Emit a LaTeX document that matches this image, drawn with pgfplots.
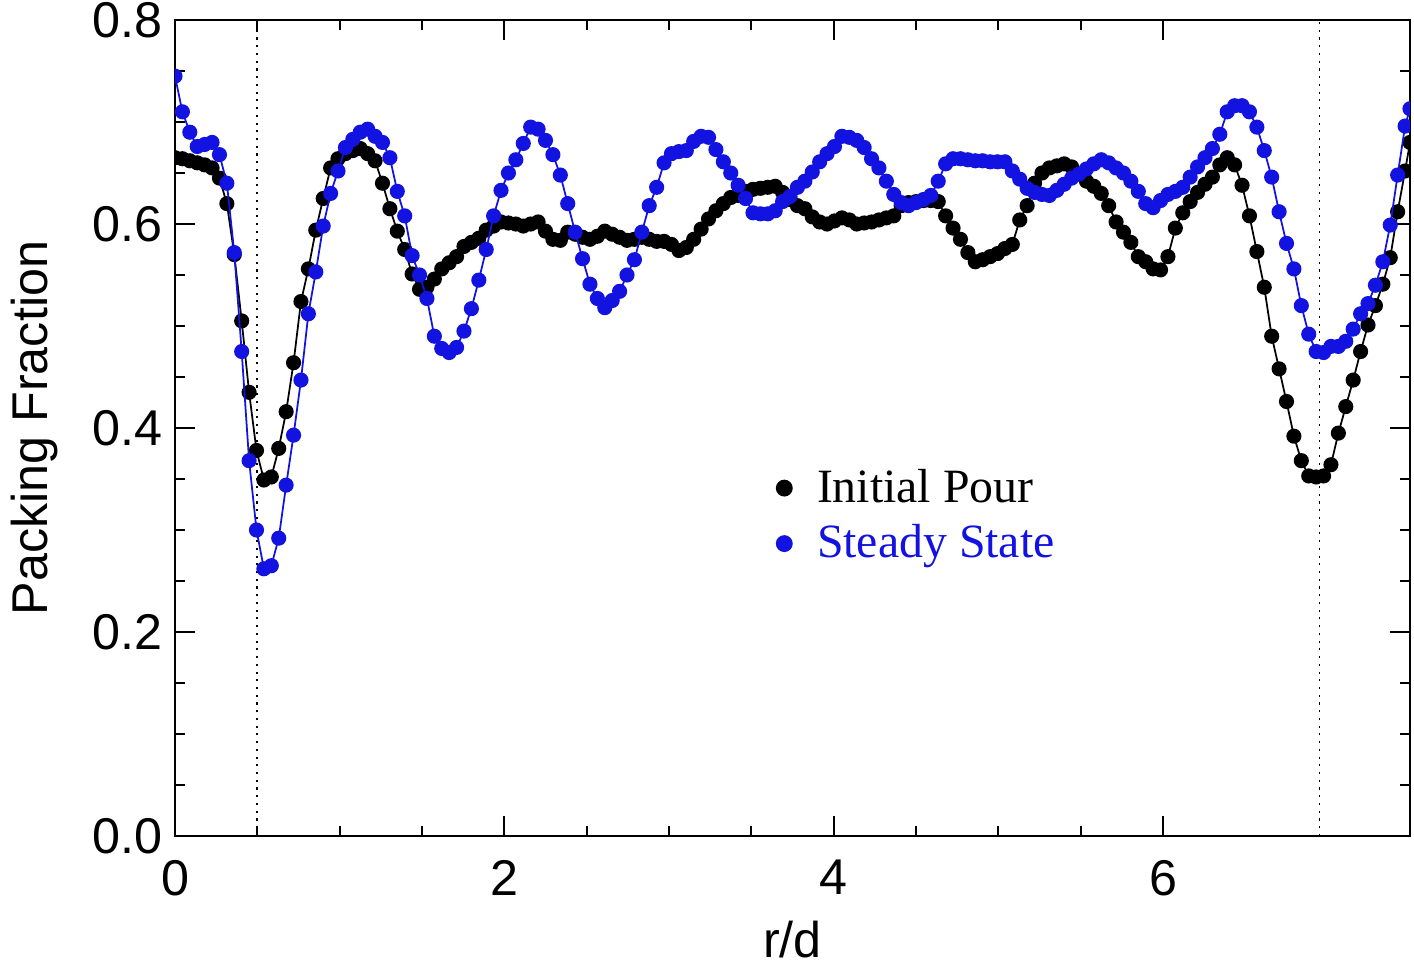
\documentclass[border=0pt]{standalone}
\usepackage{pgfplots}
\pgfplotsset{compat=1.18}
\usepackage{fontspec}
\setmainfont{Liberation Sans}
\newfontfamily\serif{Liberation Serif}
\definecolor{ssblue}{RGB}{18,18,225}
\begin{document}
\begin{tikzpicture}
\useasboundingbox (-1.75cm,-1.31cm) rectangle (12.39cm,8.36cm);
\begin{axis}[
 scale only axis, width=12.35cm, height=8.16cm,
 xmin=0, xmax=7.5, ymin=0, ymax=0.8,
 xtick={0,2,4,6}, minor x tick num=3,
 ytick={0,0.2,0.4,0.6,0.8}, minor y tick num=3,
 tick align=inside,
 major tick length=0.2cm, minor tick length=0.1cm,
 axis line style={line width=0.6pt},
 tick style={black, line width=0.6pt},
 tick label style={font=\fontsize{14.3}{17}\selectfont},
 /pgf/number format/assume math mode=true,
 yticklabel style={/pgf/number format/fixed, /pgf/number format/fixed zerofill, /pgf/number format/precision=1},
 xticklabel style={yshift=-0.12cm},
 xlabel={r/d}, ylabel={Packing Fraction},
 xlabel style={at={(axis description cs:0.5,-0.1265)}, anchor=center, font=\fontsize{14.3}{17}\selectfont},
 ylabel style={at={(axis description cs:-0.1134,0.5)}, rotate=0, anchor=center, font=\fontsize{14.3}{17}\selectfont},
 clip marker paths=true,
 legend style={draw=none, fill=none, at={(0.478,0.468)}, anchor=north west, font=\serif\fontsize{13.6}{16}\selectfont, cells={anchor=west}, row sep=0.03cm},
]
\addlegendimage{only marks, mark=*, black, mark size=2.2pt}
\addlegendentry{\hspace{0.18cm}Initial Pour}
\addlegendimage{only marks, mark=*, ssblue, mark size=2.2pt}
\addlegendentry{\hspace{0.18cm}\textcolor{ssblue}{Steady State}}

\addplot[black, dash pattern=on 0.6pt off 1.6pt, line width=0.5pt, forget plot] coordinates {(0.5,0) (0.5,0.8)};
\addplot[black, dash pattern=on 0.6pt off 1.6pt, line width=0.5pt, forget plot] coordinates {(6.95,0) (6.95,0.8)};

\addplot[black, line width=0.5pt, mark=*, mark size=1.9pt, mark options={solid, fill=black}, forget plot] coordinates {
(0,0.665)(0.045,0.664)(0.09,0.662)(0.135,0.66)(0.18,0.658)(0.225,0.655)(0.27,0.645)(0.315,0.62)(0.36,0.57)(0.405,0.505)(0.45,0.435)(0.495,0.378)(0.54,0.349)(0.585,0.352)(0.63,0.38)(0.675,0.416)(0.72,0.464)(0.765,0.524)(0.81,0.556)(0.855,0.594)(0.9,0.625)(0.945,0.655)(0.99,0.664)(1.035,0.669)(1.08,0.672)(1.125,0.674)(1.17,0.669)(1.215,0.662)(1.26,0.64)(1.305,0.615)(1.35,0.593)(1.395,0.575)(1.44,0.551)(1.485,0.536)(1.53,0.538)(1.575,0.546)(1.62,0.556)(1.665,0.562)(1.71,0.568)(1.755,0.578)(1.8,0.582)(1.845,0.586)(1.89,0.594)(1.935,0.598)(1.98,0.602)(2.025,0.601)(2.07,0.6)(2.115,0.598)(2.16,0.6)(2.205,0.602)(2.25,0.593)(2.295,0.585)(2.34,0.584)(2.385,0.592)(2.43,0.59)(2.475,0.587)(2.52,0.585)(2.565,0.588)(2.61,0.593)(2.655,0.59)(2.7,0.587)(2.745,0.584)(2.79,0.585)(2.835,0.587)(2.88,0.585)(2.925,0.583)(2.97,0.583)(3.015,0.58)(3.06,0.574)(3.105,0.577)(3.15,0.585)(3.195,0.595)(3.24,0.605)(3.285,0.613)(3.33,0.62)(3.375,0.626)(3.42,0.628)(3.465,0.632)(3.51,0.634)(3.555,0.635)(3.6,0.636)(3.645,0.637)(3.69,0.631)(3.735,0.624)(3.78,0.618)(3.825,0.615)(3.87,0.607)(3.915,0.602)(3.96,0.6)(4.005,0.603)(4.05,0.606)(4.095,0.604)(4.14,0.6)(4.185,0.601)(4.23,0.602)(4.275,0.604)(4.32,0.606)(4.365,0.608)(4.41,0.618)(4.455,0.621)(4.5,0.622)(4.545,0.623)(4.59,0.623)(4.635,0.622)(4.68,0.608)(4.725,0.596)(4.77,0.585)(4.815,0.572)(4.86,0.563)(4.905,0.565)(4.95,0.568)(4.995,0.571)(5.04,0.576)(5.085,0.58)(5.13,0.604)(5.175,0.618)(5.22,0.64)(5.265,0.65)(5.31,0.655)(5.355,0.657)(5.4,0.659)(5.445,0.656)(5.49,0.649)(5.535,0.642)(5.58,0.637)(5.625,0.63)(5.67,0.618)(5.715,0.602)(5.76,0.592)(5.805,0.582)(5.85,0.568)(5.895,0.563)(5.94,0.556)(5.985,0.555)(6.03,0.568)(6.075,0.596)(6.12,0.611)(6.165,0.622)(6.21,0.631)(6.255,0.639)(6.3,0.646)(6.345,0.658)(6.39,0.665)(6.435,0.658)(6.48,0.638)(6.525,0.608)(6.57,0.573)(6.615,0.538)(6.66,0.49)(6.705,0.458)(6.75,0.426)(6.795,0.392)(6.84,0.368)(6.885,0.353)(6.93,0.352)(6.975,0.353)(7.02,0.364)(7.065,0.395)(7.11,0.421)(7.155,0.447)(7.2,0.475)(7.245,0.501)(7.29,0.52)(7.335,0.541)(7.38,0.567)(7.425,0.612)(7.47,0.652)(7.5,0.68)
};

\addplot[ssblue, line width=0.5pt, mark=*, mark size=1.9pt, mark options={solid, fill=ssblue}, forget plot] coordinates {
(0,0.745)(0.045,0.71)(0.09,0.69)(0.135,0.676)(0.18,0.678)(0.225,0.68)(0.27,0.668)(0.315,0.64)(0.36,0.572)(0.405,0.475)(0.45,0.368)(0.495,0.3)(0.54,0.262)(0.585,0.265)(0.63,0.292)(0.675,0.344)(0.72,0.393)(0.765,0.447)(0.81,0.512)(0.855,0.553)(0.9,0.598)(0.945,0.63)(0.99,0.652)(1.035,0.675)(1.08,0.683)(1.125,0.69)(1.17,0.693)(1.215,0.686)(1.26,0.68)(1.305,0.665)(1.35,0.632)(1.395,0.608)(1.44,0.569)(1.485,0.55)(1.53,0.527)(1.575,0.49)(1.62,0.478)(1.665,0.474)(1.71,0.479)(1.755,0.495)(1.8,0.517)(1.845,0.545)(1.89,0.575)(1.935,0.608)(1.98,0.633)(2.025,0.65)(2.07,0.663)(2.115,0.679)(2.16,0.695)(2.205,0.693)(2.25,0.682)(2.295,0.668)(2.34,0.648)(2.385,0.62)(2.43,0.592)(2.475,0.566)(2.52,0.541)(2.565,0.527)(2.61,0.518)(2.655,0.525)(2.7,0.534)(2.745,0.55)(2.79,0.565)(2.835,0.592)(2.88,0.618)(2.925,0.636)(2.97,0.66)(3.015,0.669)(3.06,0.671)(3.105,0.672)(3.15,0.681)(3.195,0.686)(3.24,0.685)(3.285,0.673)(3.33,0.661)(3.375,0.65)(3.42,0.638)(3.465,0.625)(3.51,0.611)(3.555,0.61)(3.6,0.61)(3.645,0.613)(3.69,0.622)(3.735,0.627)(3.78,0.636)(3.825,0.642)(3.87,0.651)(3.915,0.661)(3.96,0.669)(4.005,0.676)(4.05,0.686)(4.095,0.685)(4.14,0.682)(4.185,0.675)(4.23,0.664)(4.275,0.655)(4.32,0.642)(4.365,0.629)(4.41,0.621)(4.455,0.618)(4.5,0.621)(4.545,0.624)(4.59,0.628)(4.635,0.642)(4.68,0.659)(4.725,0.664)(4.77,0.664)(4.815,0.663)(4.86,0.662)(4.905,0.662)(4.95,0.661)(4.995,0.661)(5.04,0.661)(5.085,0.652)(5.13,0.644)(5.175,0.635)(5.22,0.631)(5.265,0.629)(5.31,0.628)(5.355,0.633)(5.4,0.639)(5.445,0.645)(5.49,0.649)(5.535,0.654)(5.58,0.659)(5.625,0.663)(5.67,0.66)(5.715,0.655)(5.76,0.65)(5.805,0.642)(5.85,0.632)(5.895,0.62)(5.94,0.616)(5.985,0.623)(6.03,0.629)(6.075,0.632)(6.12,0.636)(6.165,0.646)(6.21,0.656)(6.255,0.665)(6.3,0.674)(6.345,0.688)(6.39,0.71)(6.435,0.716)(6.48,0.716)(6.525,0.71)(6.57,0.695)(6.615,0.672)(6.66,0.646)(6.705,0.612)(6.75,0.581)(6.795,0.556)(6.84,0.52)(6.885,0.492)(6.93,0.475)(6.975,0.474)(7.02,0.48)(7.065,0.48)(7.11,0.485)(7.155,0.497)(7.2,0.512)(7.245,0.522)(7.29,0.54)(7.335,0.563)(7.38,0.599)(7.425,0.648)(7.47,0.696)(7.5,0.713)
};
\end{axis}
\end{tikzpicture}
\end{document}
